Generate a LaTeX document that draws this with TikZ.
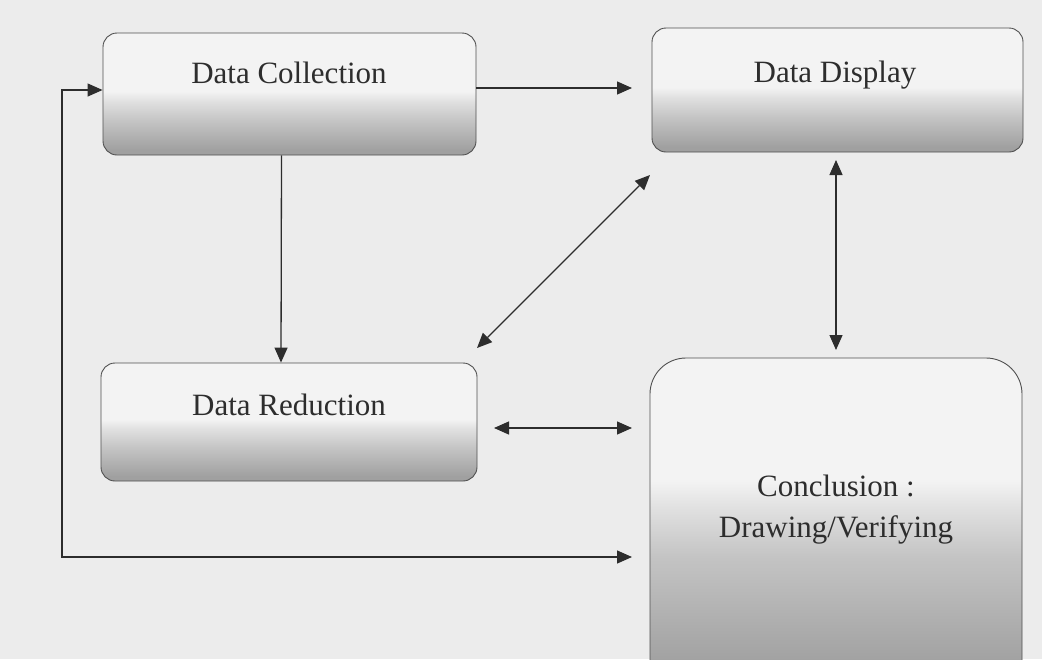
\documentclass[tikz,border=0pt]{standalone}
\usepackage{fontspec}
\setmainfont{Liberation Serif}
\usetikzlibrary{arrows.meta}

\definecolor{paper}{RGB}{236,236,236}
\definecolor{edge}{RGB}{80,80,80}
\definecolor{ink}{RGB}{45,45,45}
\definecolor{shadelow}{RGB}{160,160,160}
\definecolor{shademid}{RGB}{196,196,196}
\definecolor{shadetop}{RGB}{243,243,243}

% light top, grey lower part (box spans 25bp..75bp of the shading)
\pgfdeclareverticalshading{boxshade}{100bp}{%
  color(0bp)=(shadelow); color(27bp)=(shadelow); color(39bp)=(shademid);
  color(47bp)=(shadetop!60!shademid); color(51bp)=(shadetop); color(100bp)=(shadetop)}
\pgfdeclareverticalshading{tallshade}{100bp}{%
  color(0bp)=(shadelow); color(30bp)=(shadelow); color(46bp)=(shademid);
  color(53bp)=(shadetop!60!shademid); color(57bp)=(shadetop); color(100bp)=(shadetop)}

\tikzset{
  stagebox/.style={draw=edge, line width=0.9pt, rounded corners=14pt,
    shading=boxshade, inner sep=0pt},
  bigbox/.style={stagebox, rounded corners=36pt, shading=tallshade},
  caption/.style={font=\fontsize{31}{37}\selectfont, text=ink, anchor=base, inner sep=0pt},
  flow/.style={draw=ink, line width=1.3pt, -{Triangle[length=15pt,width=13pt]}},
  twoway/.style={flow, {Triangle[length=15pt,width=13pt]}-{Triangle[length=15pt,width=13pt]}}
}

\begin{document}
\begin{tikzpicture}[x=1pt, y=-1pt]
  \useasboundingbox (0,0) rectangle (1042,659);
  \clip (0,0) rectangle (1042,659);
  \fill[paper] (0,0) rectangle (1042,659);

  % the four stages
  \node[stagebox, minimum width=373pt, minimum height=122pt] (dc) at (289.5,94) {};
  \node[stagebox, minimum width=371pt, minimum height=124pt] (dd) at (837.5,90) {};
  \node[stagebox, minimum width=376pt, minimum height=118pt] (dr) at (289,422) {};
  \node[bigbox,   minimum width=372pt, minimum height=342pt] (cv) at (836,529) {};

  \node[caption] (dctext) at (289,83) {Data Collection};
  \node[caption] (ddtext) at (835,82) {Data Display};
  \node[caption] (drtext) at (289,415) {Data Reduction};
  \node[caption] (cvtext1) at (836,496) {Conclusion :};
  \node[caption] (cvtext2) at (836,537) {Drawing/Verifying};

  % connector end points
  \coordinate (dcIn)  at ([yshift=4pt]dc.west);
  \coordinate (toDD)  at (632,88);
  \coordinate (diagA) at (477,348);
  \coordinate (diagB) at (650,175);
  \coordinate (midA)  at (494,428);
  \coordinate (midB)  at (632,428);
  \coordinate (vertA) at (836,160);
  \coordinate (vertB) at (836,350);
  \coordinate (toCV)  at (632,557);
  \coordinate (loopX) at (62,0);

  \draw[flow] ([yshift=6pt]dc.east) -- (toDD);
  \draw[flow] ([xshift=-8pt]dc.south) -- ([xshift=-8pt]dr.north);
  \draw[twoway] (diagA) -- (diagB);
  \draw[twoway] (midA) -- (midB);
  \draw[twoway] (vertA) -- (vertB);
  \draw[twoway] (dcIn) -- (loopX |- dcIn) |- (toCV);
\end{tikzpicture}
\end{document}
